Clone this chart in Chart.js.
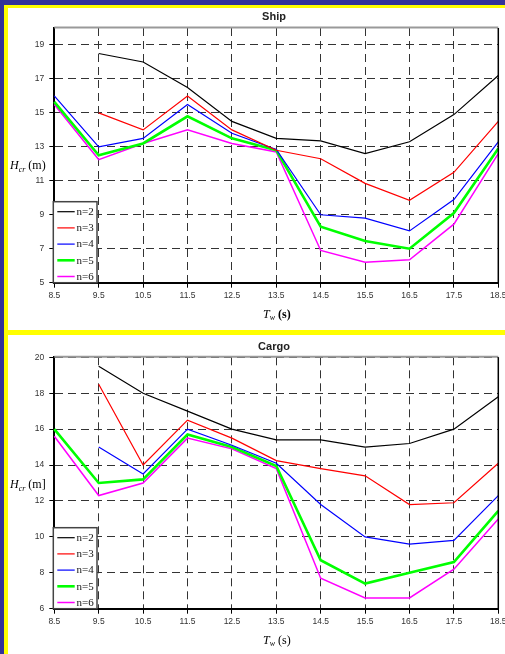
<!DOCTYPE html>
<html>
<head>
<meta charset="utf-8">
<script src="https://cdn.jsdelivr.net/npm/chart.js@4.4.1/dist/chart.umd.min.js"></script>
<style>
  body { margin: 0; width: 505px; height: 654px; overflow: hidden; background: #333399; position: relative; }
  .yel { position: absolute; left: 4px; top: 5px; width: 501px; height: 649px; background: #ffff00; }
  .pan { position: absolute; left: 8px; width: 497px; background: #fff; }
  canvas { position: absolute; left: 0; }
</style>
</head>
<body>
<div class="yel"></div>
<div class="pan" style="top:8px;height:322px"></div>
<div class="pan" style="top:335px;height:319px"></div>
<canvas id="ship" width="520" height="332" style="top:0"></canvas>
<canvas id="cargo" width="520" height="322" style="top:332px"></canvas>
<script>
// wave period Tw (s)
const periods = ['8.5', '9.5', '10.5', '11.5', '12.5', '13.5', '14.5', '15.5', '16.5', '17.5', '18.5'];
const seriesNames = ['n=2', 'n=3', 'n=4', 'n=5', 'n=6'];

// Hcr (m) - Ship
const shipN2 = [null, 18.5, 18.0, 16.5, 14.5, 13.5, 13.35, 12.6, 13.3, 14.9, 17.2];
const shipN3 = [null, 15.0, 14.0, 16.0, 14.0, 12.8, 12.3, 10.85, 9.85, 11.5, 14.5];
const shipN4 = [16.0, 13.0, 13.5, 15.5, 13.8, 12.85, 9.0, 8.8, 8.05, 9.9, 13.3];
const shipN5 = [15.65, 12.5, 13.2, 14.8, 13.5, 12.8, 8.3, 7.45, 7.0, 9.1, 12.9];
const shipN6 = [15.5, 12.25, 13.2, 14.0, 13.2, 12.7, 6.9, 6.2, 6.35, 8.45, 12.6];
const shipTicks = [5, 7, 9, 11, 13, 15, 17, 19];

// Hcr (m) - Cargo
const cargoN2 = [null, 19.5, 18.0, 17.0, 16.0, 15.4, 15.4, 15.0, 15.2, 16.0, 17.8];
const cargoN3 = [null, 18.5, 14.0, 16.5, 15.5, 14.25, 13.8, 13.4, 11.8, 11.9, 14.1];
const cargoN4 = [null, 15.0, 13.5, 16.0, 15.1, 14.1, 11.8, 10.0, 9.6, 9.8, 12.3];
const cargoN5 = [16.0, 13.0, 13.2, 15.7, 15.0, 13.95, 8.7, 7.4, 8.0, 8.6, 11.45];
const cargoN6 = [15.6, 12.3, 13.0, 15.5, 14.9, 13.8, 7.7, 6.6, 6.6, 8.2, 11.0];
const cargoTicks = [6, 8, 10, 12, 14, 16, 18, 20];

const lineColors = ['#000000', '#ff0000', '#0000ff', '#00ff00', '#ff00ff'];
const lineWidths = [1.2, 1.2, 1.2, 2.6, 1.5];

const SERIF = '"Liberation Serif", "Times New Roman", serif';
const SANS = '"Liberation Sans", Arial, sans-serif';

function subLabel(ctx, x, y, main, sub, rest, bold) {
    ctx.textAlign = 'left';
    ctx.textBaseline = 'alphabetic';
    ctx.fillStyle = '#000';
    ctx.font = 'italic 12px ' + SERIF;
    ctx.fillText(main, x, y);
    x += ctx.measureText(main).width;
    ctx.font = 'italic 8px ' + SERIF;
    ctx.fillText(sub, x, y + 2.5);
    x += ctx.measureText(sub).width;
    ctx.font = (bold ? 'bold ' : '') + '12px ' + SERIF;
    ctx.fillText(rest, x + 3, y);
}

const decor = {
    id: 'decor',
    afterDraw(chart, args, o) {
        const ctx = chart.ctx;
        const a = chart.chartArea;
        ctx.save();
        // top and right frame
        ctx.strokeStyle = '#999';
        ctx.lineWidth = 2;
        ctx.beginPath();
        ctx.moveTo(a.left, a.top - 0.5);
        ctx.lineTo(a.right, a.top - 0.5);
        ctx.stroke();
        ctx.strokeStyle = '#000';
        ctx.lineWidth = 1.5;
        ctx.beginPath();
        ctx.moveTo(a.right, a.top);
        ctx.lineTo(a.right, a.bottom);
        ctx.stroke();

        // title
        ctx.fillStyle = '#222';
        ctx.font = 'bold 11px ' + SANS;
        ctx.textAlign = 'center';
        ctx.textBaseline = 'middle';
        ctx.fillText(o.title, 274, a.top - 10.6);

        // axis titles
        subLabel(ctx, 10, o.yLabelY, 'H', 'cr', o.yUnit, false);
        subLabel(ctx, 263, a.bottom + 35, 'T', 'w', '(s)', o.boldUnit);

        // legend box
        const bx = 53.3, bw = 43.7, bh = 81, by = a.bottom - bh;
        ctx.fillStyle = '#fff';
        ctx.fillRect(bx, by, bw, bh);
        ctx.strokeStyle = '#444';
        ctx.lineWidth = 1.5;
        ctx.strokeRect(bx, by, bw, bh);
        chart.data.datasets.forEach((ds, i) => {
            const y = by + 10 + i * 16.2;
            ctx.strokeStyle = ds.borderColor;
            ctx.lineWidth = ds.borderWidth;
            ctx.beginPath();
            ctx.moveTo(57.3, y);
            ctx.lineTo(74.7, y);
            ctx.stroke();
            ctx.fillStyle = '#111';
            ctx.font = '11px ' + SERIF;
            ctx.textAlign = 'left';
            ctx.textBaseline = 'middle';
            ctx.fillText(ds.label, 76.5, y + 0.5);
        });
        ctx.restore();
    }
};

function makeChart(id, series, yTicks, yMin, padTop, padBottom, deco) {
    return new Chart(document.getElementById(id), {
        type: 'line',
        data: {
            labels: periods,
            datasets: series.map((s, i) => ({
                label: seriesNames[i],
                data: s,
                borderColor: lineColors[i],
                borderWidth: lineWidths[i],
                pointRadius: 0,
                tension: 0,
                fill: false
            }))
        },
        options: {
            responsive: false,
            animation: false,
            layout: { padding: { left: 0, right: 21.7, top: padTop, bottom: padBottom } },
            plugins: {
                legend: { display: false },
                title: { display: false },
                tooltip: { enabled: false },
                decor: deco
            },
            scales: {
                x: {
                    offset: false,
                    afterFit: (s) => { s.height = 40; },
                    grid: { color: '#333', lineWidth: 1, tickLength: 5, tickColor: '#000' },
                    border: { color: '#000', width: 2, dash: [8, 5] },
                    ticks: { color: '#333', font: { family: SANS, size: 8.5 }, padding: 3, maxRotation: 0, autoSkip: false }
                },
                y: {
                    min: yMin,
                    max: 20,
                    afterFit: (s) => { s.width = 54.3; },
                    afterBuildTicks: (s) => { s.ticks = yTicks.map(v => ({ value: v })); },
                    grid: { color: '#333', lineWidth: 1, tickLength: 5, tickColor: '#000' },
                    border: { color: '#000', width: 2, dash: [8, 5] },
                    ticks: { color: '#333', font: { family: SANS, size: 8.5 }, padding: 5 }
                }
            }
        },
        plugins: [decor]
    });
}

makeChart('ship', [shipN2, shipN3, shipN4, shipN5, shipN6], shipTicks, 5, 28, 9.3,
    { title: 'Ship', yUnit: '(m)', yLabelY: 169, boldUnit: true });
makeChart('cargo', [cargoN2, cargoN3, cargoN4, cargoN5, cargoN6], cargoTicks, 6, 25.3, 5.3,
    { title: 'Cargo', yUnit: '(m]', yLabelY: 156, boldUnit: false });
</script>
</body>
</html>
